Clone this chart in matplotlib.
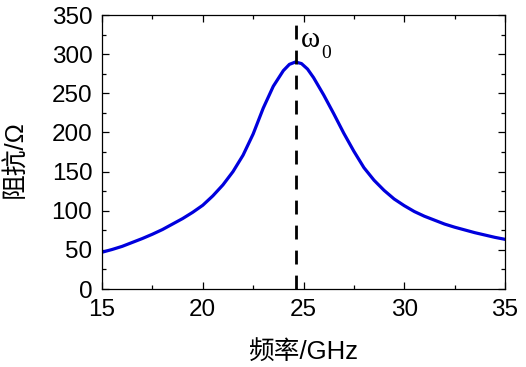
import matplotlib
matplotlib.use("Agg")
import matplotlib.pyplot as plt
from matplotlib.ticker import MultipleLocator

plt.rcParams['font.family'] = ['Liberation Sans', 'Noto Sans CJK SC', 'DejaVu Sans']

# Impedance curve (GHz, Ohm)
freq_ghz = [15.0, 15.5, 16.0, 16.5, 17.0, 17.5, 18.0, 18.5, 19.0, 19.5,
            20.0, 20.5, 21.0, 21.5, 22.0, 22.5, 23.0, 23.5, 24.0, 24.3,
            24.6, 24.9, 25.2, 25.5, 26.0, 26.5, 27.0, 27.5, 28.0, 28.5,
            29.0, 29.5, 30.0, 30.5, 31.0, 31.5, 32.0, 32.5, 33.0, 33.5,
            34.0, 34.5, 35.0]
impedance = [47, 50.5, 54.5, 59.5, 64.5, 70, 76, 83, 90, 98,
             107, 119, 133, 150, 171, 198, 231, 259, 279, 287,
             290, 288, 281, 270, 248, 224, 199, 176, 155, 139,
             126, 115, 106.5, 99, 93, 88, 83, 79, 75.5, 72,
             69, 66, 63.5]
omega0 = 24.63

x_ticks = [15, 20, 25, 30, 35]
y_ticks = [0, 50, 100, 150, 200, 250, 300, 350]

fig = plt.figure(figsize=(5.26, 3.67), dpi=100)
ax = fig.add_axes([0.194, 0.2125, 0.766, 0.7465])

ax.plot(freq_ghz, impedance, color='#0000dd', lw=2.3, solid_joinstyle='round')
ax.axvline(omega0, color='black', lw=2.0, linestyle=(0, (5, 4)))

# omega_0 marker label (upright serif, like the original)
ax.text(24.86, 309, 'ω', fontsize=21, family='Liberation Serif',
        ha='left', va='baseline')
ax.text(25.9, 295, '0', fontsize=14, family='Liberation Serif',
        ha='left', va='baseline')

ax.set_xlim(15, 35)
ax.set_ylim(0, 350)
ax.set_xticks(x_ticks)
ax.set_yticks(y_ticks)
ax.xaxis.set_minor_locator(MultipleLocator(2.5))
ax.yaxis.set_minor_locator(MultipleLocator(25))
ax.tick_params(which='both', direction='in', top=True, right=True,
               labelsize=17.5, width=0.9, pad=7)
ax.tick_params(which='major', length=5)
ax.tick_params(which='minor', length=3)
for s in ax.spines.values():
    s.set_linewidth(0.9)

ax.set_xlabel('频率/GHz', fontsize=18.5, va='center')
ax.set_ylabel('阻抗/Ω', fontsize=18.5, va='center')
ax.xaxis.set_label_coords(0.5, -0.23)
ax.yaxis.set_label_coords(-0.216, 0.474)

fig.savefig('out.png', dpi=100)
